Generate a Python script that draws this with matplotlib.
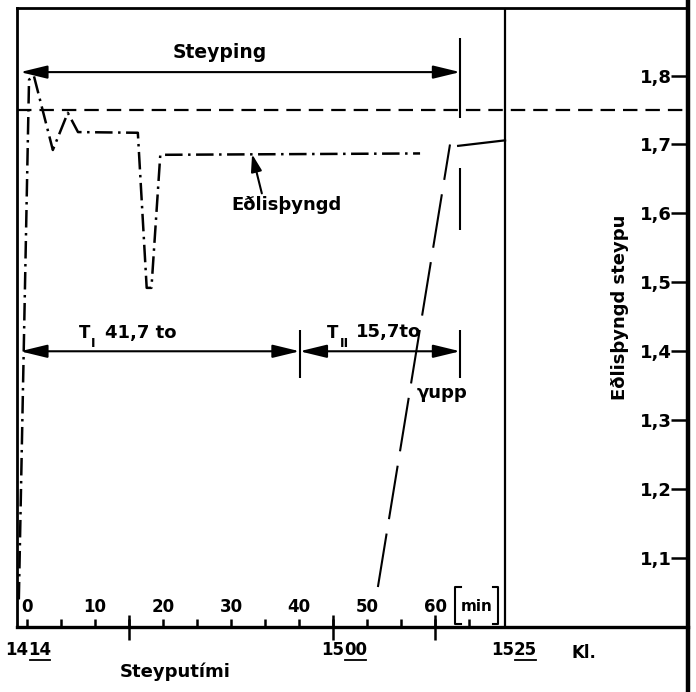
import matplotlib
matplotlib.use("Agg")
import matplotlib.pyplot as plt
import matplotlib.transforms as mtransforms
from matplotlib.patches import FancyArrowPatch

plt.rcParams['font.family'] = ['DejaVu Sans']
plt.rcParams['font.weight'] = 'bold'

# Eðlisþyngd curve (minutes after 14:14, density)
density_t = [-1.2, 0.3, 1.0, 3.8, 6.0, 7.5, 16.3, 17.6, 18.3, 19.6, 57.8]
density_v = [1.04, 1.794, 1.80, 1.692, 1.746, 1.718, 1.717, 1.492, 1.492, 1.685, 1.687]

# gamma upp line
gamma_t = [51.6, 62.2]
gamma_v = [1.058, 1.700]
tail_t = [63.4, 70.3]
tail_v = [1.698, 1.706]

target_density = 1.75
end_time = 70.3          # kl. 15:25
split_time = 40.1        # end of T_I
cast_end = 63.7          # end of casting

steyping_start = -1.0
steyping_level = 1.805
t_level = 1.40

minute_ticks = [0, 10, 20, 30, 40, 50, 60]
minor_ticks = [5, 15, 25, 35, 45, 55, 65]
clock_ticks = [15, 45, 60]
clock_hours = ["14", "15", "15"]
clock_mins = ["14", "00", "25"]
clock_pos = [0.2, 46.6, 71.6]

y_ticks = [1.1, 1.2, 1.3, 1.4, 1.5, 1.6, 1.7, 1.8]
y_labels = ["1,1", "1,2", "1,3", "1,4", "1,5", "1,6", "1,7", "1,8"]

fig = plt.figure(figsize=(6.96, 6.92), dpi=100)
ax = fig.add_axes([17 / 696, 65 / 692, 671 / 696, 619 / 692])
ax.set_xlim(-1.47, 97.2)
ax.set_ylim(1.0, 1.898)

# curves
ax.plot(density_t, density_v, color='k', lw=1.8, dashes=(7, 2.2, 1, 2.2))
ax.plot(gamma_t, gamma_v, color='k', lw=1.5, dashes=(26, 7))
ax.plot(tail_t, tail_v, color='k', lw=1.6)
ax.axhline(target_density, color='k', lw=1.6, dashes=(6.5, 3.6))
ax.axvline(end_time, color='k', lw=1.6)

# dimension arrows
def dim_arrow(x0, x1, y):
    ax.add_patch(FancyArrowPatch((x0, y), (x1, y),
                                 arrowstyle='<|-|>,head_length=1.65,head_width=0.4',
                                 mutation_scale=10, color='k', lw=1.5,
                                 shrinkA=0, shrinkB=0))

dim_arrow(steyping_start, cast_end, steyping_level)
dim_arrow(steyping_start, split_time, t_level)
dim_arrow(split_time, cast_end, t_level)
ax.vlines([cast_end, cast_end], [1.739, 1.576], [1.855, 1.666], color='k', lw=1.5)
ax.vlines([split_time, cast_end], 1.361, 1.431, color='k', lw=1.5)

ax.text(28.4, 1.833, "Steyping", ha='center', va='center', fontsize=13.5)
ax.text(8.5, 1.426, "T", ha='center', va='center', fontsize=12)
ax.text(9.7, 1.412, "Ⅰ", ha='center', va='center', fontsize=9)
ax.text(11.5, 1.427, "41,7 to", ha='left', va='center', fontsize=13)
ax.text(44.9, 1.426, "T", ha='center', va='center', fontsize=12)
ax.text(46.6, 1.412, "Ⅱ", ha='center', va='center', fontsize=9)
ax.text(48.4, 1.428, "15,7to", ha='left', va='center', fontsize=13)
ax.text(57.3, 1.34, "γupp", ha='left', va='center', fontsize=13)
ax.annotate("Eðlisþyngd", xy=(33.1, 1.686), xytext=(38.2, 1.612),
            ha='center', va='center', fontsize=13,
            arrowprops=dict(arrowstyle='-|>,head_length=0.8,head_width=0.25',
                            color='k', lw=1.5, relpos=(0.28, 1.0),
                            shrinkA=0, shrinkB=0))

# [min] bracket
bx0, bx1 = 63.0, 69.3
for bx, sgn in [(bx0, 1), (bx1, -1)]:
    ax.plot([bx + sgn * 0.8, bx, bx, bx + sgn * 0.8], [1.004, 1.004, 1.058, 1.058],
            color='k', lw=1.5)
ax.text((bx0 + bx1) / 2, 1.03, "min", ha='center', va='center', fontsize=11)

# axes frame
for side in ['left', 'top']:
    ax.spines[side].set_linewidth(2)
ax.spines['bottom'].set_linewidth(2.4)
ax.spines['right'].set_visible(False)
ax.plot([1, 1], [-0.105, 1.013], transform=ax.transAxes, color='k', lw=3.2,
        clip_on=False, solid_capstyle='butt')

# x ticks (minutes, drawn inside)
ax.set_xticks(minute_ticks)
ax.set_xticklabels([str(m) for m in minute_ticks])
ax.set_xticks(minor_ticks, minor=True)
ax.tick_params(axis='x', which='both', direction='in', length=6, width=1.8,
               pad=-21, labelsize=12)
sec = ax.secondary_xaxis('bottom')
sec.set_xticks(clock_ticks)
sec.set_xticklabels([])
sec.minorticks_off()
sec.tick_params(direction='inout', length=18, width=1.8)
sec.spines['bottom'].set_visible(False)

# y ticks on right, labels inside
ax.yaxis.set_ticks_position('right')
ax.set_yticks(y_ticks)
ax.set_yticklabels(y_labels)
ax.tick_params(axis='y', direction='in', length=12, width=1.8, pad=-11.5,
               labelsize=13)
for lbl in ax.get_yticklabels():
    lbl.set_horizontalalignment('right')

ax.text(87.2, 1.464, "Eðlisþyngd steypu", rotation=90, ha='center', va='center',
        fontsize=13)

# clock labels with underlined minutes
trans = mtransforms.blended_transform_factory(ax.transData, ax.transAxes)
min_texts = []
for h, m, x in zip(clock_hours, clock_mins, clock_pos):
    ax.text(x, -0.037, h, transform=trans, ha='right', va='center', fontsize=12,
            clip_on=False)
    min_texts.append(ax.text(x, -0.037, m, transform=trans, ha='left',
                             va='center', fontsize=12, clip_on=False))
ax.text(81.9, -0.042, "Kl.", transform=trans, ha='center', va='center',
        fontsize=12, clip_on=False)
ax.text(21.8, -0.073, "Steyputími", transform=trans, ha='center', va='center',
        fontsize=13, clip_on=False)

fig.canvas.draw()
inv = fig.transFigure.inverted()
for t in min_texts:
    bb = t.get_window_extent()
    (fx0, fy0), (fx1, _) = inv.transform([[bb.x0, bb.y0], [bb.x1, bb.y1]])
    fig.add_artist(plt.Line2D([fx0 + 0.002, fx1 - 0.002], [fy0 - 0.002, fy0 - 0.002],
                              color='k', lw=1.3, transform=fig.transFigure))

fig.savefig("out.png", dpi=100)
